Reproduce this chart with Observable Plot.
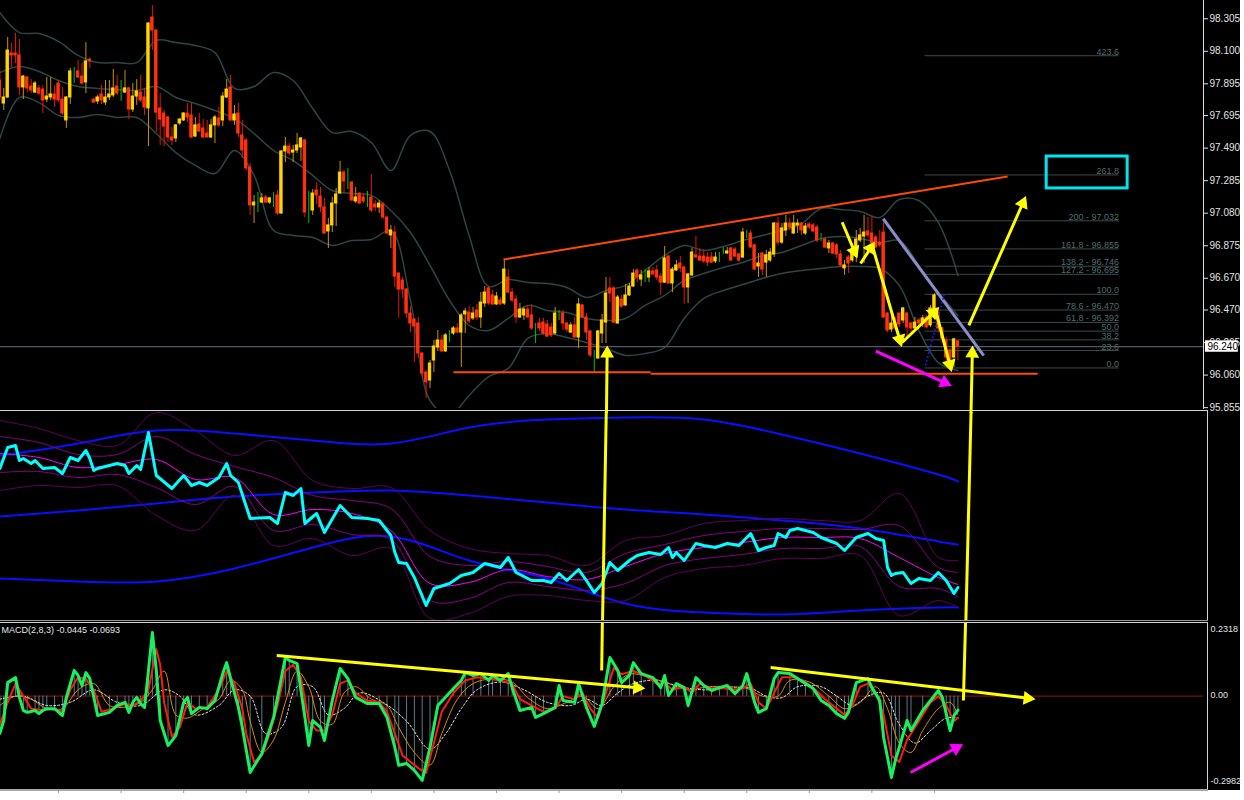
<!DOCTYPE html>
<html>
<head>
<meta charset="utf-8">
<script src="https://cdn.jsdelivr.net/npm/d3@7"></script>
<script src="https://cdn.jsdelivr.net/npm/@observablehq/plot@0.6"></script>
<style>
  html, body { margin: 0; padding: 0; background: #fff; }
  #chart { position: relative; width: 1244px; height: 800px; background: #fff; overflow: hidden; }
  #bg { position: absolute; left: 0; top: 0; width: 1240px; height: 790px; background: #000; }
  .border { position: absolute; }
</style>
</head>
<body>
<div id="chart"><div id="bg"></div></div>
<script>
// ---------------- price bars (one per period) ----------------
const candleOpen = [97.916,97.771,97.809,98.086,98.086,98.074,97.872,97.935,97.878,97.840,
97.866,97.859,97.796,97.809,97.828,97.897,97.796,97.664,97.809,97.973,
97.973,97.941,97.904,98.048,97.796,97.784,97.828,97.777,97.809,97.822,
97.878,97.853,97.840,97.866,97.733,97.815,97.840,97.809,97.740,98.313,
98.231,97.740,97.708,97.683,97.557,97.551,97.645,97.664,97.708,97.696,
97.563,97.639,97.614,97.582,97.557,97.633,97.677,97.664,97.809,97.872,
97.664,97.708,97.570,97.538,97.368,97.129,97.173,97.147,97.179,97.147,
97.179,97.192,97.078,97.469,97.500,97.462,97.475,97.494,97.538,97.097,
97.097,97.223,97.185,97.116,96.965,97.003,97.141,97.204,97.336,97.292,
97.273,97.154,97.204,97.179,97.179,97.179,97.135,97.116,97.135,97.053,
96.940,96.958,96.700,96.656,96.599,96.448,96.410,96.385,96.196,96.076,
96.026,96.152,96.234,96.278,96.209,96.322,96.322,96.354,96.328,96.442,
96.454,96.417,96.467,96.423,96.511,96.606,96.562,96.505,96.530,96.511,
96.675,96.580,96.536,96.423,96.436,96.473,96.436,96.373,96.385,96.391,
96.379,96.360,96.322,96.448,96.448,96.385,96.328,96.373,96.297,96.499,
96.423,96.335,96.202,96.165,96.322,96.391,96.606,96.606,96.385,96.536,
96.499,96.562,96.618,96.719,96.662,96.669,96.675,96.713,96.719,96.681,
96.643,96.807,96.637,96.719,96.763,96.738,96.612,96.688,96.814,96.807,
96.807,96.801,96.801,96.776,96.801,96.832,96.826,96.858,96.851,96.820,
96.801,96.946,96.952,96.877,96.744,96.826,96.769,96.782,96.820,97.015,
96.895,96.971,97.015,96.952,97.003,97.015,96.952,97.009,97.003,96.990,
96.927,96.914,96.858,96.889,96.877,96.820,96.732,96.801,96.782,96.826,
96.908,96.933,96.965,96.952,96.927,96.895,96.958,96.448,96.347,96.385,
96.448,96.404,96.448,96.385,96.354,96.404,96.391,96.423,96.373,96.454,
96.454,96.354,96.278,96.215,96.171,96.272];

const candleHigh = [97.979,97.866,98.187,98.149,98.212,98.174,97.948,97.941,97.922,97.910,
97.885,97.885,97.935,97.935,97.885,97.916,97.872,97.815,97.992,97.998,
98.042,98.023,98.155,98.055,97.800,97.822,97.885,97.916,97.916,97.985,
97.948,97.916,97.979,97.872,97.897,97.922,97.948,97.866,98.281,98.388,
98.235,97.834,97.727,97.689,97.620,97.639,97.677,97.714,97.771,97.771,
97.683,97.708,97.670,97.664,97.670,97.696,97.746,97.840,97.922,97.948,
97.759,97.771,97.664,97.551,97.393,97.192,97.210,97.204,97.192,97.179,
97.210,97.223,97.475,97.557,97.519,97.507,97.582,97.557,97.544,97.217,
97.229,97.273,97.242,97.173,97.047,97.179,97.236,97.406,97.349,97.362,
97.278,97.242,97.207,97.204,97.217,97.324,97.160,97.160,97.147,97.056,
97.003,96.996,96.703,96.675,96.606,96.492,96.417,96.423,96.200,96.089,
96.152,96.278,96.341,96.310,96.322,96.341,96.366,96.385,96.448,96.480,
96.492,96.486,96.505,96.580,96.618,96.618,96.593,96.580,96.549,96.788,
96.725,96.606,96.562,96.511,96.486,96.499,96.505,96.385,96.417,96.417,
96.404,96.385,96.486,96.467,96.467,96.391,96.391,96.423,96.543,96.505,
96.448,96.341,96.215,96.341,96.442,96.675,96.675,96.618,96.562,96.562,
96.631,96.637,96.725,96.725,96.719,96.725,96.738,96.738,96.751,96.700,
96.870,96.814,96.738,96.782,96.807,96.744,96.700,96.858,96.933,96.858,
96.851,96.832,96.832,96.832,96.832,96.864,96.864,96.864,96.864,96.826,
96.984,96.971,96.971,96.883,96.826,96.832,96.845,96.858,97.021,97.053,
97.015,97.066,97.047,97.066,97.040,97.021,97.015,97.021,97.015,97.003,
96.952,96.921,96.908,96.895,96.889,96.845,96.782,96.814,96.889,96.971,
96.984,97.066,97.053,97.053,96.940,96.971,97.021,96.454,96.448,96.423,
96.451,96.486,96.454,96.391,96.423,96.417,96.436,96.436,96.499,96.574,
96.467,96.360,96.297,96.228,96.291,96.278];

const candleLow = [97.790,97.727,97.803,97.998,98.023,97.822,97.796,97.840,97.834,97.834,
97.822,97.708,97.777,97.790,97.746,97.777,97.696,97.614,97.765,97.897,
97.930,97.885,97.834,97.992,97.770,97.765,97.765,97.759,97.790,97.809,
97.822,97.784,97.834,97.670,97.714,97.759,97.777,97.696,97.500,98.105,
97.588,97.507,97.500,97.525,97.507,97.525,97.633,97.658,97.651,97.551,
97.557,97.588,97.553,97.553,97.551,97.519,97.620,97.626,97.803,97.658,
97.633,97.557,97.425,97.349,97.066,97.015,97.084,97.141,97.141,97.135,
97.116,97.066,97.072,97.399,97.444,97.399,97.456,97.406,97.053,97.015,
97.066,97.135,97.084,96.948,96.858,96.958,96.996,97.200,97.210,97.229,
97.155,97.141,97.135,97.141,97.116,97.084,97.091,97.078,97.040,96.946,
96.858,96.612,96.417,96.543,96.417,96.328,96.139,96.165,96.045,95.913,
95.976,96.076,96.209,96.202,96.202,96.266,96.310,96.322,96.108,96.322,
96.385,96.404,96.404,96.354,96.486,96.499,96.499,96.499,96.499,96.499,
96.574,96.517,96.385,96.417,96.404,96.417,96.341,96.259,96.335,96.310,
96.297,96.297,96.310,96.404,96.341,96.328,96.322,96.291,96.228,96.417,
96.278,96.171,96.070,96.158,96.259,96.259,96.517,96.385,96.382,96.480,
96.492,96.555,96.612,96.643,96.618,96.643,96.643,96.688,96.656,96.562,
96.637,96.634,96.580,96.713,96.706,96.505,96.511,96.681,96.798,96.776,
96.763,96.744,96.763,96.763,96.769,96.820,96.820,96.776,96.801,96.769,
96.795,96.921,96.858,96.719,96.675,96.688,96.675,96.769,96.801,96.877,
96.883,96.933,96.971,96.946,96.952,96.940,96.940,96.977,96.958,96.895,
96.902,96.858,96.826,96.820,96.795,96.738,96.688,96.700,96.769,96.769,
96.895,96.763,96.921,96.883,96.858,96.864,96.417,96.328,96.328,96.341,
96.360,96.385,96.297,96.328,96.341,96.347,96.360,96.357,96.360,96.423,
96.328,96.259,96.139,96.102,96.108,96.152];

const candleClose = [97.809,97.809,98.105,98.074,98.074,97.872,97.941,97.866,97.853,97.897,
97.834,97.790,97.815,97.828,97.796,97.790,97.708,97.809,97.973,97.973,
97.935,97.897,98.036,98.036,97.777,97.809,97.790,97.809,97.828,97.866,
97.834,97.853,97.866,97.733,97.815,97.847,97.790,97.746,98.275,98.231,
97.714,97.670,97.626,97.557,97.538,97.633,97.670,97.708,97.683,97.557,
97.633,97.595,97.557,97.557,97.633,97.683,97.633,97.815,97.859,97.664,
97.702,97.582,97.475,97.362,97.129,97.147,97.173,97.173,97.147,97.173,
97.179,97.078,97.469,97.500,97.456,97.475,97.507,97.551,97.084,97.097,
97.204,97.192,97.116,96.952,97.003,97.141,97.198,97.336,97.280,97.292,
97.160,97.179,97.141,97.154,97.179,97.097,97.116,97.141,97.053,96.952,
96.971,96.681,96.599,96.599,96.448,96.385,96.366,96.196,96.070,96.014,
96.133,96.240,96.278,96.209,96.310,96.322,96.354,96.328,96.436,96.461,
96.398,96.448,96.423,96.517,96.580,96.511,96.505,96.555,96.505,96.725,
96.580,96.530,96.423,96.473,96.473,96.423,96.354,96.373,96.354,96.322,
96.303,96.310,96.448,96.448,96.385,96.347,96.373,96.297,96.505,96.423,
96.328,96.184,96.202,96.335,96.404,96.574,96.574,96.391,96.549,96.492,
96.562,96.618,96.700,96.675,96.688,96.669,96.713,96.694,96.675,96.643,
96.795,96.637,96.725,96.751,96.732,96.612,96.694,96.832,96.801,96.782,
96.776,96.769,96.769,96.801,96.801,96.832,96.839,96.782,96.807,96.782,
96.958,96.946,96.864,96.725,96.763,96.725,96.814,96.832,97.015,96.895,
96.984,97.015,96.990,97.015,97.015,96.971,96.996,96.990,96.965,96.908,
96.927,96.864,96.889,96.826,96.820,96.751,96.751,96.763,96.832,96.914,
96.940,96.958,96.940,96.889,96.864,96.877,96.423,96.341,96.385,96.354,
96.379,96.480,96.360,96.354,96.391,96.385,96.417,96.360,96.480,96.562,
96.354,96.291,96.171,96.121,96.285,96.240];

// Bollinger bands on price, every 5 bars
const bandIndex = [0,5,10,15,20,25,30,35,40,45,50,55,60,65,70,75,80,85,90,95,100,105,110,115,120,
125,130,135,140,145,150,155,160,165,170,175,180,185,190,195,200,205,210,215,220,225,230,235,240,245];
const bandUpper = [98.344,98.218,98.212,98.162,98.074,98.029,98.029,98.029,98.168,98.155,98.137,98.092,97.866,97.878,97.966,97.916,97.740,97.588,97.595,97.525,97.349,97.570,97.595,97.349,96.940,
96.618,96.662,96.643,96.637,96.612,96.549,96.593,96.625,96.719,96.814,96.877,96.845,96.870,96.908,96.940,96.971,97.015,97.110,97.103,97.091,97.053,97.166,97.160,97.021,96.688];
const bandMiddle = [97.966,98.004,97.973,97.916,97.878,97.866,97.859,97.853,97.878,97.809,97.771,97.727,97.677,97.582,97.475,97.412,97.318,97.223,97.204,97.192,97.097,96.958,96.751,96.530,96.373,
96.341,96.417,96.499,96.467,96.454,96.417,96.404,96.417,96.499,96.562,96.656,96.700,96.738,96.769,96.814,96.832,96.877,96.921,96.933,96.921,96.895,96.908,96.751,96.580,96.436];
const bandLower = [97.551,97.809,97.777,97.696,97.683,97.702,97.683,97.683,97.582,97.462,97.381,97.330,97.475,97.318,96.971,96.940,96.927,96.877,96.908,96.914,96.971,96.530,95.900,95.806,95.932,
96.051,96.102,96.291,96.322,96.297,96.266,96.228,96.184,96.196,96.234,96.417,96.543,96.593,96.631,96.669,96.700,96.719,96.732,96.744,96.744,96.732,96.625,96.341,96.139,96.089];

const priceTicks = [98.305,98.100,97.895,97.695,97.490,97.285,97.080,96.875,96.670,96.470,96.265,96.060,95.855];
const currentPrice = 96.240;

// Fibonacci expansion levels
const fibLabels = ["0.0","23.6","38.2","50.0","61.8 - 96.392","78.6 - 96.470","100.0","127.2 - 96.695","138.2 - 96.746","161.8 - 96.855","200 - 97.032","261.8","423.6"];
const fibPrices = [96.105,96.215,96.282,96.337,96.392,96.470,96.569,96.695,96.746,96.855,97.032,97.321,98.072];
const fibStart = 236.6, fibEnd = 286.2;

// drawn studies on the price window (bar index, price)
const resistanceLine = [{x1: 128.8, y1: 96.788, x2: 257.7, y2: 97.311}];
const supportLine = [{x1: 116.0, y1: 96.078, x2: 166.4, y2: 96.078}, {x1: 166.4, y1: 96.068, x2: 265.4, y2: 96.068}];
const channelLine = [{x1: 225.9, y1: 97.045, x2: 251.6, y2: 96.183}];
const fibAnchor = [{x1: 236.7, y1: 96.120, x2: 241.6, y2: 96.580}];
const targetBox = [{x1: 267.7, x2: 288.4, y1: 97.236, y2: 97.437}];
const pathArrows = [
  {x1: 215.4, y1: 97.023, x2: 218.8, y2: 96.824},
  {x1: 220.1, y1: 96.763, x2: 223.1, y2: 96.876},
  {x1: 223.1, y1: 96.876, x2: 230.3, y2: 96.267},
  {x1: 230.8, y1: 96.267, x2: 239.3, y2: 96.467},
  {x1: 239.3, y1: 96.467, x2: 243.1, y2: 96.110},
  {x1: 247.8, y1: 96.373, x2: 261.9, y2: 97.160}
];
const priceDivergence = [{x1: 224.0, y1: 96.211, x2: 242.3, y2: 96.005}];
const priceLinks = [{x1: 155.1, y1: 95.774, x2: 155.3, y2: 96.215}, {x1: 248.3, y1: 95.774, x2: 248.7, y2: 96.215}];

// ---------------- oscillator window ----------------
const oscIndex = [0,2,4,5,6,8,9,11,14,16,18,20,22,23,24,25,30,32,33,35,36,38,40,44,47,49,51,53,56,58,59,61,64,69,71,73,75,77,78,81,83,87,90,94,97,100,101,102,104,106,109,111,115,118,121,124,128,130,132,136,139,141,143,145,148,150,152,154,156,158,161,163,166,169,171,172,173,175,178,180,183,186,189,192,194,196,198,199,201,202,204,206,208,210,212,214,216,219,222,224,226,227,228,229,231,233,235,238,240,242,244,245];
const oscValue = [76,86.5,87.5,80,81,78.5,80,76,76.5,73.5,81.5,80,85,81,75,76,78.5,77.5,73.5,77.5,75.5,94,72.5,66,72.5,67.5,69,67.5,71.5,78.5,72.5,69,51,51.5,48.5,64,62.5,66,48.5,53.5,44,57.5,51.5,51,50,42.5,34,29,28.5,21.5,7.5,16,18.5,22.5,24,28.5,26.5,31.5,24,20,20,19,23.5,20,25.5,20,14,18.5,29,25,30,32.5,34,33,36.5,31.5,34,30,38.5,37.5,36.5,38.5,37.5,43.5,35,36.5,37.5,43.5,41.5,45,46,45,44,41.5,40,38.5,35,41.5,43.5,41,40,26.5,22.5,23.5,24,18.5,21,20,24,20,13.5,16.5];

const sigIndex = [0,10,20,30,40,50,60,70,80,90,100,110,120,130,140,150,160,170,180,190,200,210,220,230,240,245];
const sigValue = [83.5,81.5,76.5,78,80.5,70.5,71.5,53,55.5,53.5,45,18.5,19,25.5,22,20.5,27,33.5,36.5,39,41.5,41.5,41,31.5,21.5,18];
const envOuterUp = [100,96,90,87.5,104,95,82.5,90,70,66,66.5,45,36,33.5,32.5,27.5,40,42.5,48.5,50,51,50,50,63.5,31.5,30];
const envInnerUp = [92,89,83,83,92,83,77,71.5,62.5,60,56,32,27.5,29.5,27,24,33.5,38,42.5,44.5,46,46,45.5,47.5,26.5,24];
const envInnerLo = [74,74.5,71.5,73,66.5,58,67,45,48,43,40.5,10,11,19,17,15,18.5,27.5,31,33,36,36,37,17,16,12];
const envOuterLo = [65,67.5,66.5,67.5,52.5,45,62.5,37.5,41,32.5,36,1,3.5,12,12.5,10,10,21.5,26,27.5,31,31,32.5,2.5,10,6.5];

const slowIndex = [0,20,40,60,80,100,120,140,160,180,200,220,240,245];
const slowUpper = [82.5,88.5,95,93.5,90,88.5,96.5,100.5,101.5,100.5,93,83.5,73,69.5];
const slowMiddle = [52,55,58.5,62,64,65,62.5,59,55.5,53,50,46,39.5,38];
const slowLower = [21,19.5,19.5,26,36.5,42,30,21,8.5,4,3,5,6.5,6.5];

const oscLinks = [{x1: 155.1, y1: 107.5, x2: 154.1, y2: -2.5}, {x1: 248.4, y1: 107.5, x2: 247.0, y2: -2.5}];

// ---------------- MACD(2,8,3) window ----------------
const macdTitle = "MACD(2,8,3) -0.0445 -0.0693";
const macdIndex = [0,1,2,4,5,6,7,9,10,11,12,14,16,17,19,20,21,22,23,25,28,30,32,33,34,35,36,37,38,39,40,41,43,45,47,48,49,51,53,55,57,58,59,61,62,64,67,70,73,74,76,78,79,80,82,83,85,87,89,91,94,97,99,101,102,104,106,108,110,112,116,118,119,121,123,125,126,128,130,131,133,136,137,139,142,143,144,147,148,150,152,154,156,158,159,161,162,164,167,169,170,171,173,175,176,178,180,182,184,186,188,190,191,193,194,196,198,199,202,204,206,208,210,212,214,216,217,219,222,223,225,226,228,229,230,232,233,236,240,241,242,243,244,245];
const macdValue = [-0.119,-0.078,0.043,0.059,-0.004,-0.046,-0.052,-0.046,-0.056,-0.046,-0.040,-0.040,-0.062,-0.004,0.082,0.066,0.034,0.075,0.056,-0.062,-0.052,-0.030,-0.020,-0.052,-0.020,-0.004,-0.024,-0.036,0.082,0.203,0.082,-0.078,-0.158,-0.126,-0.020,-0.004,-0.056,-0.036,-0.040,-0.014,0.072,0.107,0.056,-0.036,-0.100,-0.244,-0.183,-0.068,0.123,0.114,0.104,-0.068,-0.158,-0.078,-0.100,-0.142,-0.014,0.088,0.056,-0.004,-0.024,-0.024,-0.068,-0.164,-0.221,-0.215,-0.237,-0.269,-0.164,-0.030,0.024,0.050,0.075,0.066,0.072,0.050,0.066,0.050,0.072,0.027,-0.046,-0.036,-0.068,-0.056,-0.036,0.034,-0.014,-0.020,0.040,-0.036,-0.097,-0.024,0.123,0.082,0.043,0.066,0.107,0.072,0.059,0.027,0.066,0.002,0.040,0.027,-0.030,0.059,0.034,0.018,0.027,0.034,0.008,0.034,0.072,-0.020,-0.052,-0.040,0.056,0.075,0.072,0.056,0.040,0.024,-0.014,-0.030,-0.056,-0.071,-0.052,0.043,0.056,0.027,-0.014,-0.132,-0.260,-0.205,-0.164,-0.078,-0.110,-0.046,0.018,-0.004,-0.056,-0.110,-0.062,-0.0445];
const signalIndex = [0,2,4,6,8,11,14,16,18,20,22,24,26,29,32,34,36,38,40,41,42,44,46,48,50,53,56,58,60,62,63,65,67,69,71,73,75,77,79,81,83,85,87,89,91,94,97,99,101,103,105,107,109,111,113,116,119,122,125,128,131,133,136,139,142,144,147,149,151,153,155,157,159,162,165,168,170,172,175,177,179,182,185,188,190,192,194,196,198,200,203,206,209,211,214,216,218,220,222,224,226,228,230,232,234,236,238,240,242,244,245];
const signalValue = [-0.09,-0.02,0.04,0.00,-0.04,-0.045,-0.04,-0.05,0.02,0.06,0.055,0.02,-0.05,-0.04,-0.025,-0.03,-0.015,0.02,0.15,0.10,-0.02,-0.13,-0.10,-0.02,-0.04,-0.035,0.02,0.08,0.04,-0.04,-0.12,-0.21,-0.19,-0.12,-0.03,0.08,0.10,0.06,-0.08,-0.11,-0.11,-0.06,0.04,0.05,0.01,-0.015,-0.02,-0.05,-0.12,-0.19,-0.21,-0.23,-0.245,-0.15,-0.05,0.01,0.05,0.06,0.055,0.05,0.04,-0.01,-0.03,-0.05,-0.04,0.00,-0.01,0.01,-0.04,-0.07,0.01,0.09,0.07,0.08,0.065,0.04,0.04,0.02,0.03,0.01,0.04,0.025,0.025,0.02,0.025,0.04,-0.02,-0.04,0.01,0.06,0.06,0.045,0.015,-0.01,-0.04,-0.06,-0.03,0.03,0.04,0.01,-0.06,-0.19,-0.21,-0.14,-0.10,-0.06,-0.02,0.00,-0.03,-0.08,-0.0693];
const slowMaIndex = [0,4,8,12,16,20,24,28,32,36,39,42,45,48,52,56,59,62,64,67,70,73,76,79,82,85,88,91,95,99,102,106,110,113,117,121,126,131,135,140,145,149,153,157,161,166,171,176,181,186,191,195,199,202,207,212,216,220,224,227,230,233,236,240,243,245];
const slowMaValue = [-0.03,0.00,-0.01,-0.04,-0.04,0.02,0.04,-0.03,-0.035,-0.02,0.02,0.08,-0.06,-0.07,-0.04,-0.01,0.05,0.02,-0.08,-0.18,-0.14,-0.02,0.08,0.03,-0.08,-0.09,0.01,0.03,-0.01,-0.03,-0.10,-0.18,-0.22,-0.12,-0.01,0.04,0.055,0.045,-0.005,-0.04,-0.02,0.00,-0.04,0.03,0.07,0.06,0.04,0.02,0.03,0.03,0.025,0.00,0.00,0.05,0.045,0.00,-0.04,-0.02,0.03,-0.04,-0.15,-0.18,-0.11,-0.04,-0.02,-0.06];
const trendMaIndex = [0,6,12,18,24,30,36,42,46,50,56,60,64,68,72,76,80,84,88,92,98,104,110,114,118,122,128,134,140,146,150,154,158,162,168,174,180,186,192,196,200,204,210,214,218,222,226,230,234,238,242,245];
const trendMaValue = [-0.01,0.00,-0.03,-0.02,0.02,-0.02,-0.03,0.02,0.00,-0.06,-0.03,0.02,0.00,-0.12,-0.10,0.03,0.03,-0.06,-0.04,0.01,-0.02,-0.08,-0.17,-0.12,-0.04,0.02,0.045,0.02,-0.02,-0.03,-0.01,-0.03,0.01,0.04,0.05,0.03,0.02,0.025,0.025,0.00,-0.005,0.03,0.03,0.00,-0.03,0.00,0.01,-0.09,-0.15,-0.11,-0.07,-0.07];
const macdScale = [{v: 0.2318, label: "0.2318"}, {v: 0, label: "0.00"}, {v: -0.2982, label: "-0.2982"}];
const timeTicks = [15,31,47,63,79,95,111,127,143,159,175,191,207,223,239];

const macdTrends = [{x1: 70.8, y1: 0.130, x2: 163.8, y2: 0.026}, {x1: 197.1, y1: 0.091, x2: 263.6, y2: -0.008}];
const macdDivergence = [{x1: 232.9, y1: -0.244, x2: 245.2, y2: -0.161}];
const macdLinks = [{x1: 154.1, y1: 0.257, x2: 153.9, y2: 0.082}, {x1: 247.0, y1: 0.257, x2: 246.4, y2: -0.014}];

// ---------------- layout & scales ----------------
const W = 1244, MR = 41, PW = W - MR;
const xDomain = [0.16, 307.8];
const priceDomain = [95.8496, 98.42];
const oscDomain = [0, 104];
const macdDomain = [-0.2982, 0.2318];
const font = '"Liberation Sans", Arial, sans-serif';

const xS = Plot.scale({x: {domain: xDomain, range: [0, PW]}});
const yPrice = Plot.scale({y: {domain: priceDomain, range: [408, 0]}});
const yMacd = Plot.scale({y: {domain: macdDomain, range: [166, 0]}});

// filled arrowhead positioned just inside the segment end, rotated along it
function arrowHeads(segs, ys) {
  return segs.map(s => {
    const ax = xS.apply(s.x1), ay = ys.apply(s.y1), bx = xS.apply(s.x2), by = ys.apply(s.y2);
    const dx = bx - ax, dy = by - ay, len = Math.hypot(dx, dy) || 1;
    return {x: xS.invert(bx - dx / len * 3), y: ys.invert(by - dy / len * 3), rotate: Math.atan2(dx, -dy) * 180 / Math.PI};
  });
}
function arrows(segs, ys, color, width, r) {
  return [
    Plot.link(segs, {x1: "x1", y1: "y1", x2: "x2", y2: "y2", stroke: color, strokeWidth: width}),
    Plot.dot(arrowHeads(segs, ys), {x: "x", y: "y", rotate: "rotate", symbol: "triangle", r, fill: color, stroke: color, strokeWidth: 1})
  ];
}
const series = (idx, ...cols) => idx.map((i, k) => Object.fromEntries([["i", i], ...cols.map(([n, a]) => [n, a[k]])]));

const candles = candleOpen.map((o, i) => ({i, o, h: candleHigh[i], l: candleLow[i], c: candleClose[i]}));
const tone = d => d.c > d.o ? "up" : d.c < d.o ? "down" : "flat";
const bodyFill = {up: "#ffd400", down: "#ff3210", flat: "#00c400"};
const wickFill = {up: "#c8920a", down: "#e81400", flat: "#00c400"};
const bands = series(bandIndex, ["up", bandUpper], ["mid", bandMiddle], ["lo", bandLower]);
const fib = fibPrices.map((p, k) => ({price: p, label: fibLabels[k]}));
const bandStroke = "#2c4646";

const chart = document.getElementById("chart");
function place(node, top) {
  node.style.position = "absolute";
  node.style.left = "0px";
  node.style.top = top + "px";
  chart.appendChild(node);
}

// ---------------- price window ----------------
const pricePlot = Plot.plot({
  width: W, height: 413,
  marginLeft: 0, marginRight: MR, marginTop: 0, marginBottom: 5,
  style: {background: "transparent", color: "#e2e2e2", fontFamily: font, fontSize: "10px", overflow: "hidden"},
  color: {type: "identity"},
  x: {domain: xDomain, axis: null},
  y: {domain: priceDomain, axis: "right", ticks: priceTicks, tickFormat: d3.format(".3f"), tickSize: 4, tickPadding: 2, label: null},
  marks: [
    Plot.line(bands, {x: "i", y: "up", stroke: bandStroke, curve: "catmull-rom", clip: true}),
    Plot.line(bands, {x: "i", y: "mid", stroke: bandStroke, curve: "catmull-rom", clip: true}),
    Plot.line(bands, {x: "i", y: "lo", stroke: bandStroke, curve: "catmull-rom", clip: true}),
    Plot.ruleY([currentPrice], {stroke: "#565662", strokeWidth: 1.3}),
    Plot.ruleY(fib, {y: "price", x1: () => fibStart, x2: () => fibEnd, stroke: "#3b4b4b"}),
    Plot.text(fib, {x: () => fibEnd, y: "price", text: "label", textAnchor: "end", lineAnchor: "bottom", dy: -1, fill: "#4f6d6d", fontSize: 9}),
    Plot.ruleX(candles, {x: "i", y1: "l", y2: "h", stroke: d => wickFill[tone(d)], strokeWidth: 1}),
    Plot.rect(candles, {x1: d => d.i - 0.3, x2: d => d.i + 0.3, y1: "o", y2: "c",
      fill: d => bodyFill[tone(d)], stroke: d => bodyFill[tone(d)], strokeWidth: 1}),
    Plot.link(resistanceLine, {x1: "x1", y1: "y1", x2: "x2", y2: "y2", stroke: "#ff4a00", strokeWidth: 2}),
    Plot.link(supportLine, {x1: "x1", y1: "y1", x2: "x2", y2: "y2", stroke: "#ff4a00", strokeWidth: 2}),
    Plot.rect(targetBox, {x1: "x1", x2: "x2", y1: "y1", y2: "y2", fill: "none", stroke: "#00e4ee", strokeWidth: 3}),
    Plot.link(channelLine, {x1: "x1", y1: "y1", x2: "x2", y2: "y2", stroke: "#8c8cc8", strokeWidth: 3}),
    Plot.link(fibAnchor, {x1: "x1", y1: "y1", x2: "x2", y2: "y2", stroke: "#1a1aff", strokeWidth: 1.5, strokeDasharray: "2,2"}),
    ...arrows(pathArrows, yPrice, "#ffff00", 3, 4.5),
    ...arrows(priceDivergence, yPrice, "#ff00ff", 3, 4.5),
    ...arrows(priceLinks, yPrice, "#ffff00", 3, 4.5),
    Plot.rect([currentPrice], {x1: () => 308.3, x2: () => 316.7, y1: d => d - 0.036, y2: d => d + 0.036, fill: "#ffffff"}),
    Plot.text([currentPrice], {x: () => 308.8, y: d => d, text: d => d.toFixed(3), textAnchor: "start", fill: "#000000", fontSize: 10})
  ]
});

// ---------------- oscillator window ----------------
const osc = series(oscIndex, ["v", oscValue]);
const sig = series(sigIndex, ["s", sigValue], ["ou", envOuterUp], ["iu", envInnerUp], ["il", envInnerLo], ["ol", envOuterLo]);
const slow = series(slowIndex, ["u", slowUpper], ["m", slowMiddle], ["l", slowLower]);
const blue = "#0a10ff";
const oscPlot = Plot.plot({
  width: W, height: 208,
  marginLeft: 0, marginRight: MR, marginTop: 0, marginBottom: 0,
  style: {background: "transparent", color: "#e2e2e2", fontFamily: font, fontSize: "10px", overflow: "hidden"},
  color: {type: "identity"},
  x: {domain: xDomain, axis: null},
  y: {domain: oscDomain, axis: null},
  marks: [
    Plot.line(slow, {x: "i", y: "u", stroke: blue, strokeWidth: 2, curve: "natural"}),
    Plot.line(slow, {x: "i", y: "m", stroke: blue, strokeWidth: 2, curve: "natural"}),
    Plot.line(slow, {x: "i", y: "l", stroke: blue, strokeWidth: 2, curve: "natural"}),
    Plot.line(sig, {x: "i", y: "ou", stroke: "#5e005e", strokeWidth: 1, curve: "catmull-rom", clip: true}),
    Plot.line(sig, {x: "i", y: "ol", stroke: "#5e005e", strokeWidth: 1, curve: "catmull-rom", clip: true}),
    Plot.line(sig, {x: "i", y: "iu", stroke: "#860086", strokeWidth: 1, curve: "catmull-rom", clip: true}),
    Plot.line(sig, {x: "i", y: "il", stroke: "#860086", strokeWidth: 1, curve: "catmull-rom", clip: true}),
    Plot.line(sig, {x: "i", y: "s", stroke: "#ff00ff", strokeWidth: 1, curve: "catmull-rom"}),
    Plot.line(osc, {x: "i", y: "v", stroke: "#00ffff", strokeWidth: 3, strokeLinejoin: "round"}),
    Plot.link(oscLinks, {x1: "x1", y1: "y1", x2: "x2", y2: "y2", stroke: "#ffff00", strokeWidth: 3})
  ]
});

// ---------------- MACD window ----------------
const macd = series(macdIndex, ["v", macdValue]);
const signal = series(signalIndex, ["v", signalValue]);
const slowMa = series(slowMaIndex, ["v", slowMaValue]);
const trendMa = series(trendMaIndex, ["v", trendMaValue]);
const macdPlot = Plot.plot({
  width: W, height: 172,
  marginLeft: 0, marginRight: MR, marginTop: 0, marginBottom: 6,
  style: {background: "transparent", color: "#9c9c9c", fontFamily: font, fontSize: "10px", overflow: "hidden"},
  color: {type: "identity"},
  x: {domain: xDomain, axis: "bottom", ticks: timeTicks, tickSize: 4, tickFormat: () => "", label: null},
  y: {domain: macdDomain, axis: null},
  marks: [
    Plot.ruleY([0], {stroke: "#7c0e0e", strokeWidth: 1.2}),
    Plot.ruleX(macd, {x: "i", y1: () => 0, y2: "v", stroke: "#587d86", strokeWidth: 1}),
    Plot.line(trendMa, {x: "i", y: "v", stroke: "#e8e8e8", strokeWidth: 1, strokeDasharray: "2,2", curve: "catmull-rom"}),
    Plot.line(slowMa, {x: "i", y: "v", stroke: "#e08a00", strokeWidth: 1, curve: "catmull-rom"}),
    Plot.line(signal, {x: "i", y: "v", stroke: "#ff1a10", strokeWidth: 2}),
    Plot.line(macd, {x: "i", y: "v", stroke: "#18f05c", strokeWidth: 3, strokeLinejoin: "round"}),
    ...arrows(macdTrends, yMacd, "#ffff00", 3, 4.5),
    ...arrows(macdDivergence, yMacd, "#ff00ff", 3, 4.5),
    Plot.link(macdLinks, {x1: "x1", y1: "y1", x2: "x2", y2: "y2", stroke: "#ffff00", strokeWidth: 3}),
    Plot.text([macdTitle], {frameAnchor: "top-left", text: d => d, dx: 1, dy: 3, lineAnchor: "top", textAnchor: "start", fill: "#e6e6e6", fontSize: 9}),
    Plot.text(macdScale.slice(0, 1), {x: () => xDomain[1], y: "v", text: "label", dx: 7, dy: 6, textAnchor: "start", fill: "#e2e2e2", fontSize: 9}),
    Plot.text(macdScale.slice(1, 2), {x: () => xDomain[1], y: "v", text: "label", dx: 7, dy: -1, textAnchor: "start", fill: "#e2e2e2", fontSize: 9}),
    Plot.text(macdScale.slice(2, 3), {x: () => xDomain[1], y: "v", text: "label", dx: 7, dy: -8, textAnchor: "start", fill: "#e2e2e2", fontSize: 9})
  ]
});

// window frames
[[1203, 0, 1, 409, "#dcdcdc"], [0, 410, 1208, 1, "#d4d4d4"], [1207, 410, 1, 211, "#d4d4d4"],
 [0, 620, 1208, 1, "#9a9a9a"], [0, 622, 1208, 1, "#d4d4d4"], [1207, 622, 1, 168, "#d4d4d4"],
 [0, 789, 1208, 2, "#a8a8a8"]].forEach(([l, t, w, h, c]) => {
  const d = document.createElement("div");
  d.className = "border";
  Object.assign(d.style, {left: l + "px", top: t + "px", width: w + "px", height: h + "px", background: c});
  chart.appendChild(d);
});

place(pricePlot, 0);
place(oscPlot, 412);
place(macdPlot, 623);
</script>
</body>
</html>
